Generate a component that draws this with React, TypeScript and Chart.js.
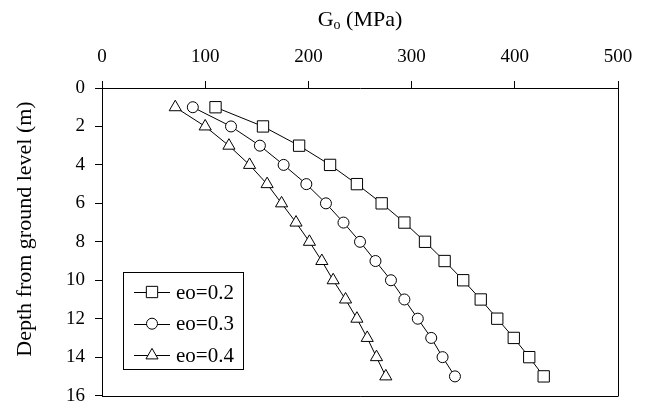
import { useEffect, useRef } from "react";
import { Chart, registerables } from "chart.js";
import { drawPoint } from "chart.js/helpers";

Chart.register(...registerables);

const depths = [1, 2, 3, 4, 5, 6, 7, 8, 9, 10, 11, 12, 13, 14, 15];
const gEo02 = [110, 156, 191, 221, 247, 271, 293, 313, 332, 350, 367, 383, 399, 414, 428];
const gEo03 = [88, 125, 153, 176, 198, 217, 234, 250, 265, 280, 293, 306, 319, 330, 342];
const gEo04 = [71, 100, 123, 143, 160, 174, 188, 201, 213, 224, 236, 247, 257, 266, 275];
const seriesLabels = ["eo=0.2", "eo=0.3", "eo=0.4"];
const seriesStyles = ["rect", "circle", "triangle"];
const seriesRadii = [8, 5.5, 7];
const xTitleMain = "G";
const xTitleSub = "o";
const xTitleRest = " (MPa)";
const yTitle = "Depth from ground level (m)";

const FONT = "'Liberation Serif', 'Times New Roman', serif";

export default function App() {
  const ref = useRef<HTMLCanvasElement | null>(null);

  useEffect(() => {
    document.body.style.margin = "0";
    const canvas = ref.current;
    if (!canvas) return;
    const seriesValues = [gEo02, gEo03, gEo04];

    const datasets = seriesValues.map((vals, i) => ({
      label: seriesLabels[i],
      data: vals.map((v, j) => ({ x: v, y: depths[j] })),
      showLine: true,
      borderColor: "#000",
      borderWidth: 1,
      backgroundColor: "#fff",
      pointStyle: seriesStyles[i] as any,
      pointRadius: seriesRadii[i],
      pointBorderColor: "#000",
      pointBackgroundColor: "#fff",
      pointBorderWidth: 1,
      tension: 0,
    }));

    const decor = {
      id: "decor",
      afterDraw(chart: any) {
        const { ctx, chartArea } = chart;
        const { left, right, top, bottom } = chartArea;
        ctx.save();
        // frame right/bottom
        ctx.strokeStyle = "#000";
        ctx.lineWidth = 1;
        ctx.beginPath();
        ctx.moveTo(left, Math.round(bottom) + 0.5);
        ctx.lineTo(right + 0.5, Math.round(bottom) + 0.5);
        ctx.moveTo(Math.round(right) + 0.5, top);
        ctx.lineTo(Math.round(right) + 0.5, bottom + 0.5);
        ctx.stroke();

        // x title with subscript
        ctx.fillStyle = "#000";
        ctx.textBaseline = "alphabetic";
        const big = `22px ${FONT}`;
        const small = `14px ${FONT}`;
        ctx.font = big;
        const wG = ctx.measureText(xTitleMain).width;
        const wRest = ctx.measureText(xTitleRest).width;
        ctx.font = small;
        const wSub = ctx.measureText(xTitleSub).width;
        const total = wG + wSub + wRest;
        let x = (left + right) / 2 - total / 2;
        const by = top - 62;
        ctx.font = big;
        ctx.textAlign = "left";
        ctx.fillText(xTitleMain, x, by);
        x += wG;
        ctx.font = small;
        ctx.fillText(xTitleSub, x, by + 3);
        x += wSub;
        ctx.font = big;
        ctx.fillText(xTitleRest, x, by);

        // y title
        ctx.save();
        ctx.translate(left - 77, top + 141);
        ctx.rotate(-Math.PI / 2);
        ctx.font = big;
        ctx.textAlign = "center";
        ctx.textBaseline = "middle";
        ctx.fillText(yTitle, 0, 0);
        ctx.restore();

        // legend
        const lx = left + 21;
        const ly = top + 184;
        const lw = 120;
        const lh = 97;
        ctx.fillStyle = "#fff";
        ctx.fillRect(lx, ly, lw, lh);
        ctx.strokeStyle = "#000";
        ctx.strokeRect(Math.round(lx) + 0.5, Math.round(ly) + 0.5, lw, lh);
        chart.data.datasets.forEach((ds: any, i: number) => {
          const cy = ly + 20 + i * 31.7;
          ctx.strokeStyle = "#000";
          ctx.lineWidth = 1;
          ctx.beginPath();
          ctx.moveTo(lx + 11, Math.round(cy) + 0.5);
          ctx.lineTo(lx + 47, Math.round(cy) + 0.5);
          ctx.stroke();
          ctx.fillStyle = "#fff";
          drawPoint(ctx, { pointStyle: ds.pointStyle, radius: ds.pointRadius, borderWidth: 1, rotation: 0 } as any, lx + 29, cy);
          ctx.fillStyle = "#000";
          ctx.font = `21px ${FONT}`;
          ctx.textAlign = "left";
          ctx.textBaseline = "middle";
          ctx.fillText(ds.label, lx + 53, cy + 1);
        });
        ctx.restore();
      },
    };

    const chart = new Chart(canvas, {
      type: "scatter",
      data: { datasets: datasets as any },
      options: {
        responsive: false,
        animation: false,
        layout: { padding: { top: 0, left: 0, right: 32, bottom: 15 } },
        plugins: { legend: { display: false }, tooltip: { enabled: false } },
        scales: {
          x: {
            type: "linear",
            position: "top",
            min: 0,
            max: 500,
            ticks: { stepSize: 100, color: "#000", font: { family: FONT, size: 19 }, padding: 13 },
            grid: { drawOnChartArea: false, drawTicks: true, tickLength: 7, color: "#000", lineWidth: 1 },
            border: { color: "#000", width: 1 },
            afterFit(s: any) {
              s.height = 88;
            },
          },
          y: {
            type: "linear",
            reverse: true,
            min: 0,
            max: 16,
            ticks: { stepSize: 2, color: "#000", font: { family: FONT, size: 19 }, padding: 10 },
            grid: { drawOnChartArea: false, drawTicks: true, tickLength: 7, color: "#000", lineWidth: 1 },
            border: { color: "#000", width: 1 },
            afterFit(s: any) {
              s.width = 102;
            },
          },
        },
      },
      plugins: [decor],
    });
    return () => chart.destroy();
  }, []);

  return (
    <div style={{ width: 650, height: 417 }}>
      <canvas ref={ref} width={650} height={417} style={{ width: 650, height: 417 }} />
    </div>
  );
}
